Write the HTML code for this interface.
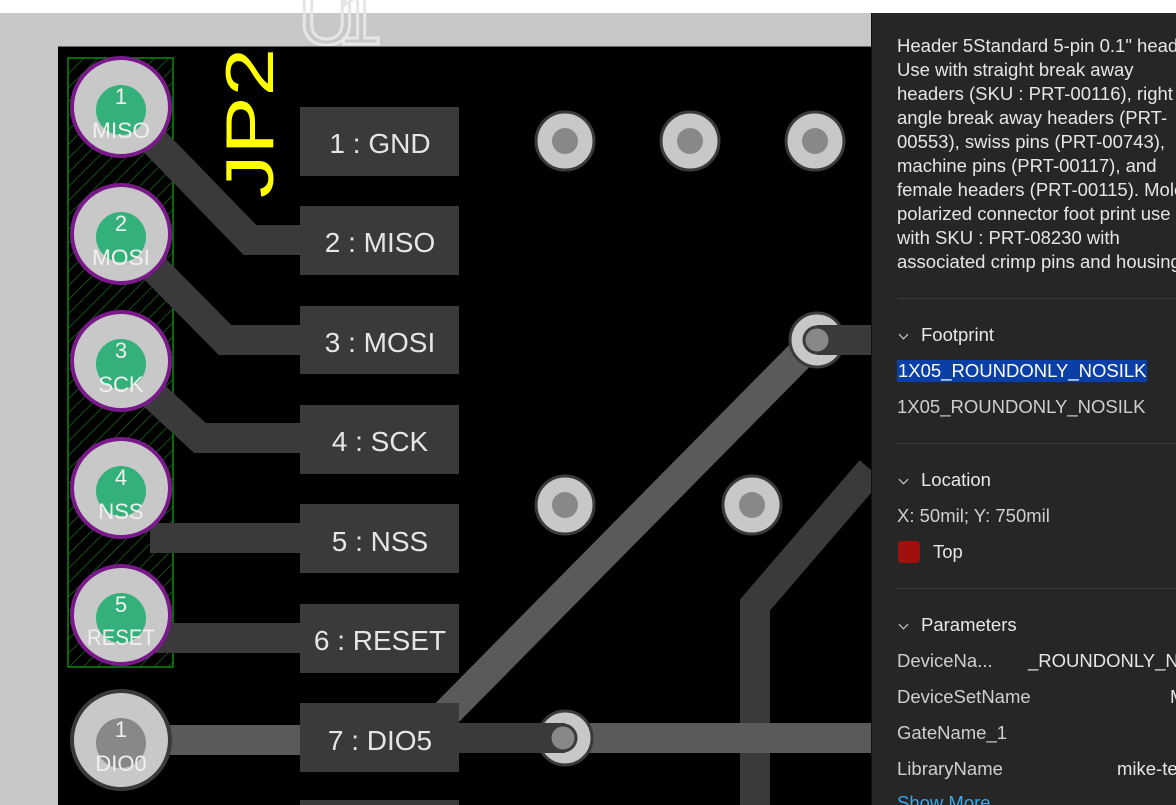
<!DOCTYPE html>
<html><head><meta charset="utf-8"><style>
html,body{margin:0;padding:0;width:1176px;height:805px;overflow:hidden;background:#fff;font-family:"Liberation Sans",sans-serif}
#panel{position:absolute;left:871px;top:13px;width:305px;height:792px;background:#262626;border-left:1px solid #111;color:#e6e6e6;font-size:18.5px;overflow:hidden}
.t{position:absolute;left:25px;white-space:nowrap}
.sep{position:absolute;left:25px;width:290px;height:1px;background:#3c3c3c}
.hdr{position:absolute;left:25px;font-size:18.5px;color:#e8e8e8}
.hdr i{display:inline-block;width:6px;height:6px;border-right:1.6px solid #ddd;border-bottom:1.6px solid #ddd;transform:rotate(45deg);margin:0 14px 4px 3px;vertical-align:middle}
</style></head><body>
<svg width="871" height="805" style="position:absolute;left:0;top:0" xmlns="http://www.w3.org/2000/svg">
<rect x="0" y="13" width="871" height="792" fill="#c8c8c8"/>
<text x="298" y="44" font-family="Liberation Sans" font-size="80" textLength="84" fill="none" stroke="#e6e6e6" stroke-width="3">U1</text>
<rect x="58" y="46" width="813" height="759" fill="#000"/>
<line x1="58" y1="46.5" x2="871" y2="46.5" stroke="#666" stroke-width="1"/>
<defs><pattern id="h" width="10" height="10" patternUnits="userSpaceOnUse" patternTransform="rotate(45)"><line x1="0" y1="0" x2="0" y2="10" stroke="#1a6a1a" stroke-width="1.5"/></pattern></defs>
<rect x="68" y="58" width="105" height="609" fill="url(#h)" stroke="#0a8a0a" stroke-width="1.5"/>
<g stroke="#3a3a3a" stroke-width="30" fill="none" stroke-linejoin="miter">
<polyline points="150,137 250,240 310,240"/>
<polyline points="150,264 225,340 310,340"/>
<polyline points="150,392 200,438 310,438"/>
<polyline points="150,538 310,538"/>
<polyline points="150,638 310,638"/>
<polyline points="815,340 871,340"/>
<polyline points="871,470 755,605 755,805"/>
<polyline points="440,738 565,738"/>
</g>
<g stroke="#5a5a5a" stroke-width="30" fill="none">
<line x1="815" y1="340" x2="430" y2="730"/>
<line x1="150" y1="740" x2="310" y2="740"/>
<line x1="580" y1="738" x2="871" y2="738"/>
</g>
<g font-family="Liberation Sans" font-size="28" fill="#e6e6e6" text-anchor="middle">
<rect x="300" y="107" width="159" height="69" fill="#3a3a3a"/><text x="380" y="153">1 : GND</text>
<rect x="300" y="206" width="159" height="69" fill="#3a3a3a"/><text x="380" y="252">2 : MISO</text>
<rect x="300" y="306" width="159" height="68" fill="#3a3a3a"/><text x="380" y="352">3 : MOSI</text>
<rect x="300" y="405" width="159" height="69" fill="#3a3a3a"/><text x="380" y="451">4 : SCK</text>
<rect x="300" y="504" width="159" height="69" fill="#3a3a3a"/><text x="380" y="551">5 : NSS</text>
<rect x="300" y="604" width="159" height="69" fill="#3a3a3a"/><text x="380" y="650">6 : RESET</text>
<rect x="300" y="703" width="159" height="69" fill="#3a3a3a"/><text x="380" y="750">7 : DIO5</text>
<rect x="300" y="800" width="159" height="10" fill="#3a3a3a"/>
</g>
<g>
<circle cx="565" cy="141" r="29" fill="#c8c8c8" stroke="#3a3a3a" stroke-width="3"/><circle cx="565" cy="141" r="13" fill="#888"/>
<circle cx="690" cy="141" r="29" fill="#c8c8c8" stroke="#3a3a3a" stroke-width="3"/><circle cx="690" cy="141" r="13" fill="#888"/>
<circle cx="815" cy="141" r="29" fill="#c8c8c8" stroke="#3a3a3a" stroke-width="3"/><circle cx="815" cy="141" r="13" fill="#888"/>
<circle cx="565" cy="505" r="29" fill="#c8c8c8" stroke="#3a3a3a" stroke-width="3"/><circle cx="565" cy="505" r="13" fill="#888"/>
<circle cx="752" cy="505" r="29" fill="#c8c8c8" stroke="#3a3a3a" stroke-width="3"/><circle cx="752" cy="505" r="13" fill="#888"/>
<circle cx="817" cy="340" r="27" fill="#c8c8c8" stroke="#3a3a3a" stroke-width="3"/><rect x="817" y="325" width="54" height="30" fill="#3a3a3a"/><circle cx="817" cy="340" r="13" fill="#888" stroke="#3a3a3a" stroke-width="3"/>
<circle cx="565" cy="738" r="27" fill="#c8c8c8" stroke="#3a3a3a" stroke-width="3"/><rect x="470" y="723" width="95" height="30" fill="#3a3a3a"/><circle cx="563" cy="738" r="13" fill="#888" stroke="#3a3a3a" stroke-width="3"/>
</g>
<g font-family="Liberation Sans" fill="#f0f0f0" text-anchor="middle" font-size="22">
<circle cx="121" cy="107" r="49" fill="#c8c8c8" stroke="#7a1a8a" stroke-width="4"/><circle cx="121" cy="110" r="25" fill="#34b07a"/><text x="121" y="104">1</text><text x="121" y="138" textLength="58" lengthAdjust="spacingAndGlyphs">MISO</text>
<circle cx="121" cy="234" r="49" fill="#c8c8c8" stroke="#7a1a8a" stroke-width="4"/><circle cx="121" cy="237" r="25" fill="#34b07a"/><text x="121" y="231">2</text><text x="121" y="265" textLength="58" lengthAdjust="spacingAndGlyphs">MOSI</text>
<circle cx="121" cy="361" r="49" fill="#c8c8c8" stroke="#7a1a8a" stroke-width="4"/><circle cx="121" cy="364" r="25" fill="#34b07a"/><text x="121" y="358">3</text><text x="121" y="392">SCK</text>
<circle cx="121" cy="488" r="49" fill="#c8c8c8" stroke="#7a1a8a" stroke-width="4"/><circle cx="121" cy="491" r="25" fill="#34b07a"/><text x="121" y="485">4</text><text x="121" y="519">NSS</text>
<circle cx="121" cy="615" r="49" fill="#c8c8c8" stroke="#7a1a8a" stroke-width="4"/><circle cx="121" cy="618" r="25" fill="#34b07a"/><text x="121" y="612">5</text><text x="121" y="645" textLength="68" lengthAdjust="spacingAndGlyphs">RESET</text>
<circle cx="121" cy="740" r="49" fill="#c8c8c8" stroke="#3a3a3a" stroke-width="4"/><circle cx="121" cy="743" r="25" fill="#888"/><text x="121" y="737">1</text><text x="121" y="771">DIO0</text>
</g>
<text transform="translate(273,198) rotate(-90)" font-family="Liberation Sans" font-size="68" textLength="150" lengthAdjust="spacingAndGlyphs" fill="#ffff00">JP2</text>
</svg>
<div id="panel">
<div class="t" style="top:21px;line-height:24px">Header 5Standard 5-pin 0.1" header.<br>Use with straight break away<br>headers (SKU : PRT-00116), right<br>angle break away headers (PRT-<br>00553), swiss pins (PRT-00743),<br>machine pins (PRT-00117), and<br>female headers (PRT-00115). Molex<br>polarized connector foot print use<br>with SKU : PRT-08230 with<br>associated crimp pins and housings.</div>
<div class="sep" style="top:285px"></div>
<div class="hdr" style="top:311px"><i></i>Footprint</div>
<div class="t" style="top:347px;background:#0a3fa8;color:#fff;padding:0 1px">1X05_ROUNDONLY_NOSILK</div>
<div class="t" style="top:383px;color:#cfcfcf">1X05_ROUNDONLY_NOSILK</div>
<div class="sep" style="top:430px"></div>
<div class="hdr" style="top:456px"><i></i>Location</div>
<div class="t" style="top:492px;color:#cfcfcf">X: 50mil; Y: 750mil</div>
<div style="position:absolute;left:26px;top:528px;width:22px;height:22px;border-radius:4px;background:#a0100c"></div>
<div class="t" style="left:61px;top:528px">Top</div>
<div class="sep" style="top:575px"></div>
<div class="hdr" style="top:601px"><i></i>Parameters</div>
<div class="t" style="top:637px;color:#cfcfcf">DeviceNa...</div><div class="t" style="left:156px;top:637px">_ROUNDONLY_NOSILK</div>
<div class="t" style="top:673px;color:#cfcfcf">DeviceSetName</div><div class="t" style="left:298px;top:673px">M</div>
<div class="t" style="top:709px;color:#cfcfcf">GateName_1</div>
<div class="t" style="top:745px;color:#cfcfcf">LibraryName</div><div class="t" style="left:245px;top:745px">mike-test</div>
<div class="t" style="top:779px;color:#3ea6e6">Show More</div>
</div>
</body></html>
